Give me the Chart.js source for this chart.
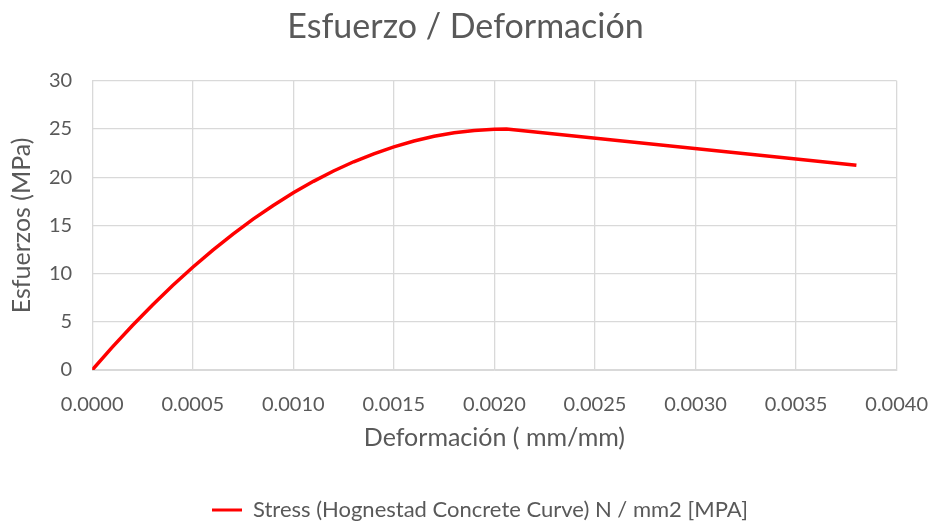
<!DOCTYPE html>
<html>
<head>
<meta charset="utf-8">
<script src="https://cdn.jsdelivr.net/npm/chart.js@4"></script>
<style>
  html, body { margin: 0; padding: 0; background: #fff; }
  #wrap { width: 933px; height: 524px; position: relative; }
</style>
</head>
<body>
<div id="wrap"><canvas id="chart"></canvas></div>
<script>
// strain (mm/mm) and stress (MPa)
const strain = [0, 0.0001, 0.0002, 0.0003, 0.0004, 0.0005, 0.0006, 0.0007, 0.0008, 0.0009,
  0.0010, 0.0011, 0.0012, 0.0013, 0.0014, 0.0015, 0.0016, 0.0017, 0.0018, 0.0019,
  0.0020, 0.00206, 0.0038];
const stress = [0, 2.37, 4.62, 6.75, 8.77, 10.66, 12.44, 14.10, 15.65, 17.07,
  18.38, 19.57, 20.64, 21.60, 22.43, 23.15, 23.75, 24.24, 24.60, 24.85,
  24.98, 25.0, 21.25];
const seriesName = 'Stress (Hognestad Concrete Curve) N / mm2 [MPA]';
const xTicks = [0, 0.0005, 0.001, 0.0015, 0.002, 0.0025, 0.003, 0.0035, 0.004];

const grey = '#595959';
const font = 'Lato, "Open Sans", sans-serif';

const points = strain.map((x, i) => ({ x: x, y: stress[i] }));

// Excel centres the title on the whole image and puts the legend a bit right and lower
const nudgeBlocks = {
  id: 'nudgeBlocks',
  afterLayout(chart) {
    chart.titleBlock.left = 0;
    chart.titleBlock.right = 931;
    chart.legend.left += 20;
    chart.legend.right += 20;
    chart.legend.top += 11;
    chart.legend.bottom += 11;
  }
};

// invisible tick marks, only used to push the labels away from the plot
const gridStyle = tickLen => ({
  color: '#d9d9d9',
  lineWidth: 1.3,
  drawTicks: true,
  tickLength: tickLen,
  tickColor: 'rgba(0,0,0,0)'
});

new Chart(document.getElementById('chart'), {
  type: 'scatter',
  data: {
    datasets: [{
      label: seriesName,
      data: points,
      showLine: true,
      borderColor: '#ff0000',
      backgroundColor: '#ff0000',
      borderWidth: 3.5,
      pointRadius: 0,
      tension: 0
    }]
  },
  plugins: [nudgeBlocks],
  options: {
    responsive: true,
    maintainAspectRatio: false,
    animation: false,
    layout: { padding: { left: 7, right: 20, top: 4, bottom: 4 } },
    scales: {
      x: {
        type: 'linear',
        min: 0,
        max: 0.004,
        afterBuildTicks: axis => { axis.ticks = xTicks.map(v => ({ value: v })); },
        ticks: {
          color: grey,
          font: { family: font, size: 20 },
          maxRotation: 0,
          padding: 5,
          callback: v => v.toFixed(4)
        },
        grid: gridStyle(18),
        border: { color: '#d9d9d9' },
        title: {
          display: true,
          text: 'Deformación ( mm/mm)',
          color: grey,
          font: { family: font, size: 25 },
          padding: { top: 1, bottom: 0 }
        }
      },
      y: {
        min: 0,
        max: 30,
        ticks: {
          stepSize: 5,
          color: grey,
          font: { family: font, size: 20 },
          padding: 5
        },
        grid: gridStyle(15),
        border: { color: '#d9d9d9' },
        title: {
          display: true,
          text: 'Esfuerzos (MPa)',
          color: grey,
          font: { family: font, size: 25 },
          padding: { top: 0, bottom: 7 }
        }
      }
    },
    plugins: {
      title: {
        display: true,
        text: 'Esfuerzo / Deformación',
        color: grey,
        font: { family: font, size: 34, weight: 'normal' },
        padding: { top: 3, bottom: 33 }
      },
      legend: {
        position: 'bottom',
        labels: {
          color: grey,
          font: { family: font, size: 22 },
          boxWidth: 30,
          boxHeight: 3,
          padding: 35,
          generateLabels: chart => [{
            text: seriesName,
            fillStyle: '#ff0000',
            strokeStyle: '#ff0000',
            lineWidth: 0,
            fontColor: grey,
            datasetIndex: 0
          }]
        }
      },
      tooltip: { enabled: false }
    }
  }
});
</script>
</body>
</html>
